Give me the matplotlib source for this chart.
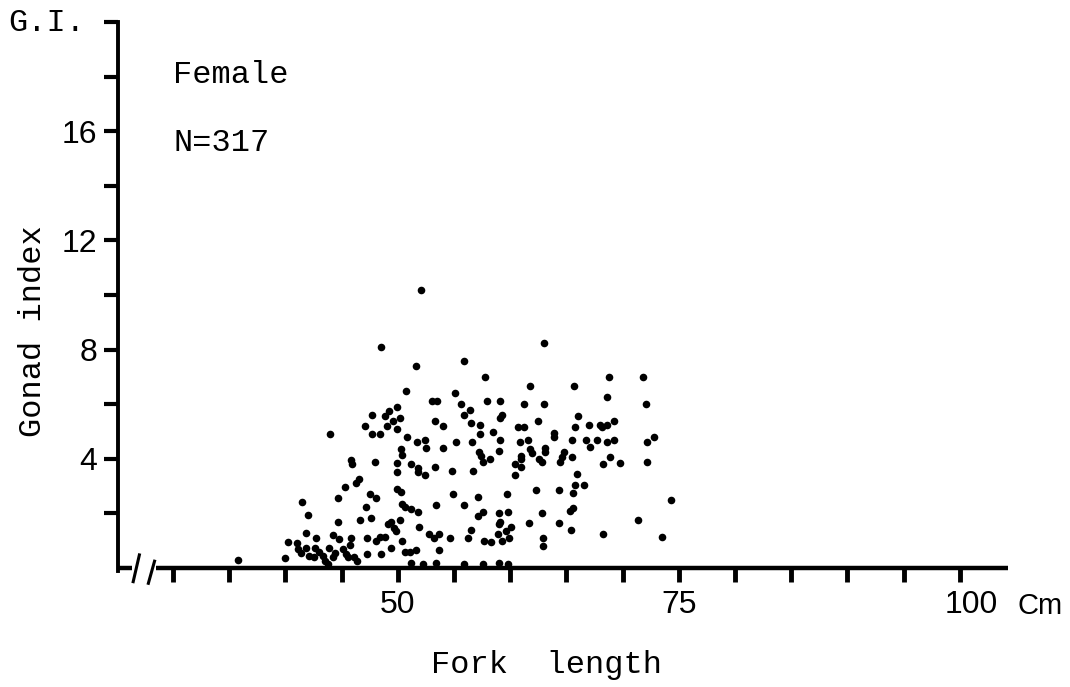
import numpy as np
import matplotlib
matplotlib.use("Agg")
import matplotlib.pyplot as plt
import matplotlib.transforms as mtransforms

# Female gonad index vs fork length
fork_length = [
    52.1, 48.5, 55.9, 51.6, 50.7, 53.0, 53.5, 55.1, 55.6, 56.4,
    49.9, 47.7, 48.9, 49.2, 50.2, 49.6, 47.1, 49.0, 49.9, 53.3,
    54.0, 55.9, 56.5, 44.0, 47.7, 48.4, 50.8, 51.7, 52.4, 52.5,
    54.0, 55.2, 56.6, 57.3, 50.3, 50.4, 45.8, 45.9, 48.0, 49.9,
    51.2, 51.8, 51.8, 52.4, 53.3, 54.8, 56.7, 49.9, 57.2, 46.5,
    46.3, 45.3, 49.9, 50.3, 47.5, 48.1, 44.7, 54.9, 57.1, 41.5,
    50.4, 50.6, 47.2, 51.2, 51.8, 53.4, 55.9, 42.0, 47.6, 57.1,
    44.7, 46.6, 49.1, 49.4, 50.2, 49.7, 49.8, 51.9, 52.8, 53.2,
    53.7, 54.6, 56.2, 56.5, 41.8, 42.7, 44.2, 44.8, 45.8, 45.7,
    47.3, 48.1, 48.4, 48.9, 50.4, 40.2, 41.0, 41.1, 41.4, 41.8,
    42.1, 42.5, 42.6, 43.0, 43.3, 43.9, 44.4, 44.2, 45.1, 45.4,
    45.6, 46.1, 46.4, 40.0, 43.5, 43.8, 47.3, 48.5, 49.4, 50.6,
    51.1, 51.6, 53.7, 51.2, 52.2, 53.4, 55.9, 35.8,
    63.0, 57.8, 68.8, 71.8, 61.8, 65.7, 68.6, 57.9, 59.1, 61.2,
    63.0, 72.1, 59.3, 59.1, 66.0, 62.5, 57.3, 60.7, 61.2, 65.8,
    67.0, 68.0, 68.2, 68.6, 69.2, 72.8, 58.5, 63.9, 63.9, 59.1,
    61.6, 65.5, 66.7, 67.7, 69.2, 60.9, 67.1, 68.6, 72.2, 57.4,
    59.0, 61.8, 61.9, 63.1, 63.1, 64.8, 64.6, 61.0, 61.0, 62.6,
    62.8, 64.4, 65.5, 68.9, 69.8, 72.2, 68.3, 57.6, 58.2, 60.4,
    61.0, 60.4, 65.9, 65.8, 66.6, 59.7, 62.3, 64.3, 65.6, 57.6,
    59.0, 59.8, 62.8, 65.3, 65.6, 59.1, 59.0, 71.4, 61.7, 64.3,
    60.1, 59.6, 65.4, 58.9, 68.3, 73.5, 57.7, 58.3, 59.3, 59.9,
    62.9, 62.9, 57.6, 59.0, 59.8, 74.3,
]
gonad_index = [
    10.2, 8.1, 7.6, 7.4, 6.5, 6.1, 6.1, 6.4, 6.0, 5.8,
    5.9, 5.6, 5.55, 5.75, 5.5, 5.4, 5.2, 5.2, 5.1, 5.4,
    5.2, 5.6, 5.3, 4.9, 4.9, 4.9, 4.8, 4.6, 4.7, 4.4,
    4.4, 4.6, 4.6, 4.9, 4.35, 4.15, 3.95, 3.8, 3.9, 3.85,
    3.8, 3.65, 3.5, 3.4, 3.7, 3.55, 3.55, 3.5, 4.25, 3.25,
    3.1, 2.95, 2.9, 2.8, 2.7, 2.55, 2.55, 2.7, 2.6, 2.4,
    2.35, 2.25, 2.25, 2.15, 2.05, 2.3, 2.3, 1.95, 1.85, 1.9,
    1.7, 1.75, 1.6, 1.7, 1.75, 1.45, 1.35, 1.5, 1.25, 1.1,
    1.25, 1.1, 1.1, 1.4, 1.3, 1.1, 1.2, 1.05, 1.1, 0.85,
    1.1, 1.0, 1.15, 1.15, 1.0, 0.95, 0.9, 0.7, 0.55, 0.75,
    0.45, 0.4, 0.75, 0.6, 0.45, 0.75, 0.55, 0.4, 0.7, 0.5,
    0.4, 0.4, 0.25, 0.35, 0.25, 0.15, 0.5, 0.5, 0.75, 0.6,
    0.6, 0.65, 0.65, 0.2, 0.15, 0.2, 0.15, 0.3,
    8.25, 7.0, 7.0, 7.0, 6.65, 6.65, 6.25, 6.1, 6.1, 6.0,
    6.0, 6.0, 5.6, 5.5, 5.55, 5.4, 5.25, 5.15, 5.15, 5.15,
    5.25, 5.25, 5.15, 5.25, 5.4, 4.8, 5.0, 4.95, 4.8, 4.7,
    4.7, 4.7, 4.7, 4.7, 4.7, 4.6, 4.45, 4.6, 4.6, 4.1,
    4.3, 4.35, 4.2, 4.4, 4.25, 4.25, 4.05, 4.1, 4.0, 4.0,
    3.9, 3.9, 4.05, 4.05, 3.85, 3.9, 3.8, 3.9, 4.0, 3.8,
    3.7, 3.4, 3.45, 3.05, 3.05, 2.7, 2.85, 2.85, 2.75, 2.05,
    2.0, 2.05, 2.0, 2.1, 2.2, 1.7, 1.6, 1.75, 1.65, 1.65,
    1.5, 1.35, 1.4, 1.25, 1.25, 1.15, 1.0, 0.95, 1.0, 1.1,
    1.1, 0.8, 0.15, 0.2, 0.15, 2.5,
]

x_ticks = list(range(30, 101, 5))
x_labels = {50: "50", 75: "75", 100: "100"}
y_ticks = list(range(2, 21, 2))
y_labels = {4: "4", 8: "8", 12: "12", 16: "16"}

mono = "Liberation Mono"
sans = "Liberation Sans"

fig = plt.figure(figsize=(10.7, 6.87), dpi=100)
ax = fig.add_axes([0.1103, 0.1732, 0.8318, 0.7948])

ax.scatter(fork_length, gonad_index, s=30, c="black", linewidths=0, clip_on=False)

ax.set_xlim(25.1, 104.3)
ax.set_ylim(0, 20)

for side in ["top", "right", "bottom"]:
    ax.spines[side].set_visible(False)
ax.spines["left"].set_linewidth(2.8)
ax.spines["left"].set_bounds(-0.1, 20)

# x axis drawn by hand with the // break
ax.plot([25.1, 26.3], [0, 0], color="black", lw=3.2, clip_on=False, solid_capstyle="butt")
ax.plot([28.5, 104.3], [0, 0], color="black", lw=3.2, clip_on=False, solid_capstyle="butt")
ax.plot([26.45, 27.0], [-0.5, 0.48], color="black", lw=2.2, clip_on=False)
ax.plot([27.8, 28.35], [-0.56, 0.25], color="black", lw=2.2, clip_on=False)

ax.set_xticks(x_ticks)
ax.set_xticklabels([x_labels.get(t, "") for t in x_ticks], fontfamily=sans, fontsize=23)
ax.set_yticks(y_ticks)
ax.set_yticklabels([y_labels.get(t, "") for t in y_ticks], fontfamily=sans, fontsize=23)
ax.tick_params(axis="x", direction="out", length=10, width=3.5, pad=6)
ax.tick_params(axis="y", direction="out", length=10, width=3, pad=5)

# the "100" label sits a little right of its tick in the original
shift = mtransforms.ScaledTranslation(8 / 72, 0, fig.dpi_scale_trans)
for lab in ax.get_xticklabels():
    if lab.get_text() == "100":
        lab.set_transform(lab.get_transform() + shift)

ax.text(105.1, -1.4, "Cm", fontfamily=sans, fontsize=21, ha="left", va="center", clip_on=False)

fig.text(0.0794, 0.9665, "G.I.", fontfamily=mono, fontsize=23, ha="right", va="center")
fig.text(0.1617, 0.891, "Female", fontfamily=mono, fontsize=23, ha="left", va="center")
fig.text(0.1617, 0.792, "N=317", fontfamily=mono, fontsize=23, ha="left", va="center")
fig.text(0.031, 0.518, "Gonad index", fontfamily=mono, fontsize=23, rotation=90,
         ha="center", va="center")
fig.text(0.511, 0.032, "Fork  length", fontfamily=mono, fontsize=23, ha="center", va="center")

fig.savefig("out.png", dpi=100, facecolor="white")
